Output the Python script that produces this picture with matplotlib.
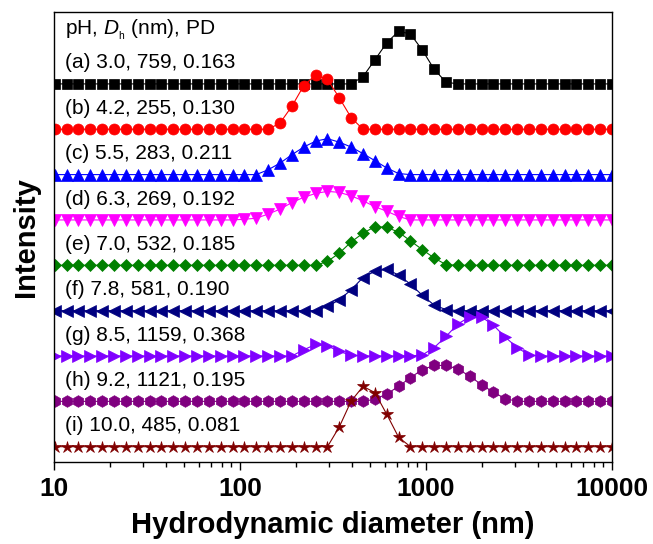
import matplotlib
matplotlib.use("Agg")
import matplotlib.pyplot as plt
import numpy as np

plt.rcParams['font.family'] = ['Liberation Sans', 'DejaVu Sans']
plt.rcParams['mathtext.fontset'] = 'custom'
plt.rcParams['mathtext.rm'] = 'Liberation Sans'
plt.rcParams['mathtext.it'] = 'Liberation Sans:italic'

# Size bins (nm) of the DLS instrument within 10-10000 nm
sizes = [10.10, 11.70, 13.54, 15.69, 18.17, 21.04, 24.36, 28.21, 32.67, 37.84,
         43.82, 50.75, 58.77, 68.06, 78.82, 91.28, 105.7, 122.4, 141.8, 164.2,
         190.1, 220.2, 255.0, 295.3, 342.0, 396.1, 458.7, 531.2, 615.1, 712.4,
         825.0, 955.4, 1106, 1281, 1484, 1718, 1990, 2305, 2669, 3091,
         3580, 4145, 4801, 5560, 6439, 7456, 8635, 10000]

# Intensity (%) for each sample
int_a = [0]*26 + [2.1, 6.9, 11.8, 15.1, 14.3, 9.7, 4.2, 0.5] + [0]*14
int_b = [0]*19 + [1.8, 6.6, 12.5, 15.6, 14.3, 9.0, 3.3] + [0]*22
int_c = [0]*18 + [1.4, 3.3, 5.7, 7.9, 9.6, 10.3, 9.3, 7.9, 6.0, 4.0, 1.9, 0.3] + [0]*18
int_d = [0]*16 + [0.2, 0.5, 1.7, 3.1, 5.0, 6.5, 7.6, 8.2, 7.9, 6.9, 5.5, 3.8, 2.5, 1.0] + [0]*18
int_e = [0]*23 + [1.1, 3.5, 6.7, 9.2, 11.1, 10.9, 9.5, 7.0, 4.5, 2.1, 0.2] + [0]*14
int_f = [0]*23 + [1.2, 3.1, 6.0, 9.5, 11.3, 11.9, 10.2, 7.6, 4.4, 1.6, 0.3] + [0]*14
int_g = [0]*21 + [1.8, 3.3, 2.9, 1.3, 0.2, 0, 0, 0, 0, 0, 0.3, 2.4, 5.6, 9.2, 11.2,
                  11.2, 8.8, 5.4, 2.4, 0.3] + [0]*7
int_h = [0]*27 + [0.6, 2.1, 4.3, 6.8, 9.1, 10.3, 10.3, 9.3, 7.2, 4.8, 2.6, 0.8] + [0]*9
int_i = [0]*24 + [5.7, 13.1, 17.3, 15.5, 9.3, 2.7] + [0]*18

series = [int_a, int_b, int_c, int_d, int_e, int_f, int_g, int_h, int_i]
labels = ["(a) 3.0, 759, 0.163", "(b) 4.2, 255, 0.130", "(c) 5.5, 283, 0.211",
          "(d) 6.3, 269, 0.192", "(e) 7.0, 532, 0.185", "(f) 7.8, 581, 0.190",
          "(g) 8.5, 1159, 0.368", "(h) 9.2, 1121, 0.195", "(i) 10.0, 485, 0.081"]
header = r"pH, $\mathit{D}_{_\mathrm{h}}$ (nm), PD"
colors = ['#000000', '#FF0000', '#0000FF', '#FF00FF', '#008000',
          '#000080', '#8000FF', '#800080', '#800000']
markers = ['s', 'o', '^', 'v', 'D', '<', '>', 'h', '*']
msizes = [7.2, 7.9, 8.2, 8.2, 6.6, 8.2, 8.2, 8.4, 9.2]
xticks = [10, 100, 1000, 10000]
xtick_labels = ["10", "100", "1000", "10000"]

offset_step = 13.0

fig = plt.figure(figsize=(6.53, 5.44), dpi=100)
ax = fig.add_axes([54/653, 1-461.7/544, (612-54)/653, (461.7-11.7)/544])

n = len(series)
for k, (vals, lab, c, m, ms) in enumerate(zip(series, labels, colors, markers, msizes)):
    off = (n - 1 - k) * offset_step
    y = np.array(vals, dtype=float) + off
    ax.plot(sizes, y, color=c, marker=m, markersize=ms, linewidth=0.8,
            markeredgewidth=0.5, markeredgecolor=c)
    ax.text(0.02, off + 6.0, lab, transform=ax.get_yaxis_transform(),
            fontsize=15, va='center', ha='left')

ax.text(0.02, (n - 1) * offset_step + 15.5, header, transform=ax.get_yaxis_transform(),
        fontsize=15, va='center', ha='left')

ax.set_xscale('log')
ax.set_xlim(10, 10000)
ax.set_ylim(-4.3, 124.7)
ax.set_xticks(xticks)
ax.set_xticklabels(xtick_labels, fontsize=19, fontweight='bold')
ax.xaxis.set_minor_locator(matplotlib.ticker.LogLocator(base=10, subs=np.arange(2, 10)))
ax.xaxis.set_minor_formatter(matplotlib.ticker.NullFormatter())
ax.tick_params(axis='x', which='major', direction='out', length=6, width=1.0, pad=5)
ax.tick_params(axis='x', which='minor', direction='out', length=3.6, width=1.0)
ax.set_yticks([])
for s in ax.spines.values():
    s.set_linewidth(1.0)

ax.set_xlabel("Hydrodynamic diameter (nm)", fontsize=21, fontweight='bold', labelpad=7)
ax.set_ylabel("Intensity", fontsize=21, fontweight='bold', labelpad=10)

fig.savefig("out.png", dpi=100)
